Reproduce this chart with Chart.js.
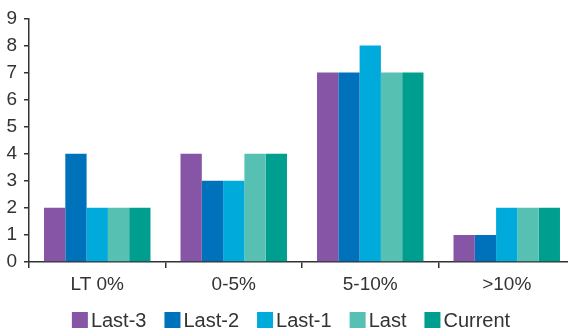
<!DOCTYPE html>
<html>
<head>
<meta charset="utf-8">
<script src="https://cdn.jsdelivr.net/npm/chart.js@4/dist/chart.umd.min.js"></script>
<style>
  html, body { margin: 0; padding: 0; background: #fff; overflow: hidden; }
  #wrap { width: 576px; height: 333px; }
</style>
</head>
<body>
<div id="wrap"><canvas id="c" width="576" height="333"></canvas></div>
<script>
// Return bands and the number of funds in each, by period
const categories = ['LT 0%', '0-5%', '5-10%', '>10%'];
const last3   = [2, 4, 7, 1];
const last2   = [4, 3, 7, 1];
const last1   = [2, 3, 8, 2];
const last    = [2, 4, 7, 2];
const current = [2, 4, 7, 2];
const yTicks  = [0, 1, 2, 3, 4, 5, 6, 7, 8, 9];

const ink = '#333333';
const family = '"Liberation Sans", Arial, sans-serif';
const axisFont = { family, size: 19, weight: 'normal' };

const series = [
  { label: 'Last-3',  data: last3,   color: '#8655a5' },
  { label: 'Last-2',  data: last2,   color: '#0072bc' },
  { label: 'Last-1',  data: last1,   color: '#00aadb' },
  { label: 'Last',    data: last,    color: '#56c1b2' },
  { label: 'Current', data: current, color: '#009e8e' }
];

// Compact legend row: square swatch hugging its label, centred under the chart
const swatchLegend = {
  id: 'swatchLegend',
  afterDraw(chart, args, opts) {
    const ctx = chart.ctx;
    const box = opts.box, gap = opts.gap, itemGap = opts.itemGap;
    ctx.save();
    ctx.font = `${opts.fontSize}px ${family}`;
    ctx.textBaseline = 'middle';
    ctx.textAlign = 'left';
    const items = chart.data.datasets.map(ds => ({
      text: ds.label,
      color: ds.backgroundColor,
      w: ctx.measureText(ds.label).width
    }));
    const total = items.reduce((a, it) => a + box + gap + it.w, 0) + itemGap * (items.length - 1);
    let x = opts.centerX - total / 2;
    const cy = opts.centerY;
    items.forEach(it => {
      ctx.fillStyle = it.color;
      ctx.fillRect(x, cy - box / 2, box, box);
      ctx.fillStyle = ink;
      ctx.fillText(it.text, x + box + gap, cy + 1);
      x += box + gap + it.w + itemGap;
    });
    ctx.restore();
  }
};

new Chart(document.getElementById('c'), {
  type: 'bar',
  data: {
    labels: categories,
    datasets: series.map(s => ({
      label: s.label,
      data: s.data,
      backgroundColor: s.color,
      borderWidth: 0,
      barPercentage: 1.0,
      categoryPercentage: 0.78
    }))
  },
  plugins: [swatchLegend],
  options: {
    responsive: false,
    animation: false,
    devicePixelRatio: 1,
    layout: { padding: { top: 15, right: 1, left: 0, bottom: 34 } },
    plugins: {
      tooltip: { enabled: false },
      legend: { display: false },
      swatchLegend: { box: 16, gap: 3, itemGap: 18, fontSize: 20, centerX: 291, centerY: 320 }
    },
    scales: {
      x: {
        grid: { drawOnChartArea: false, tickLength: 6, color: ink, lineWidth: 1.5 },
        border: { color: ink, width: 1.5 },
        ticks: { color: ink, font: axisFont, padding: 5 },
        afterFit: s => { s.height = 37; }
      },
      y: {
        min: 0,
        max: 9,
        afterBuildTicks: s => { s.ticks = yTicks.map(v => ({ value: v })); },
        grid: { drawOnChartArea: false, tickLength: 5, color: ink, lineWidth: 1.5 },
        border: { color: ink, width: 1.5 },
        ticks: { color: ink, font: axisFont, padding: 7 },
        afterFit: s => { s.width = 29; }
      }
    }
  }
});
</script>
</body>
</html>
